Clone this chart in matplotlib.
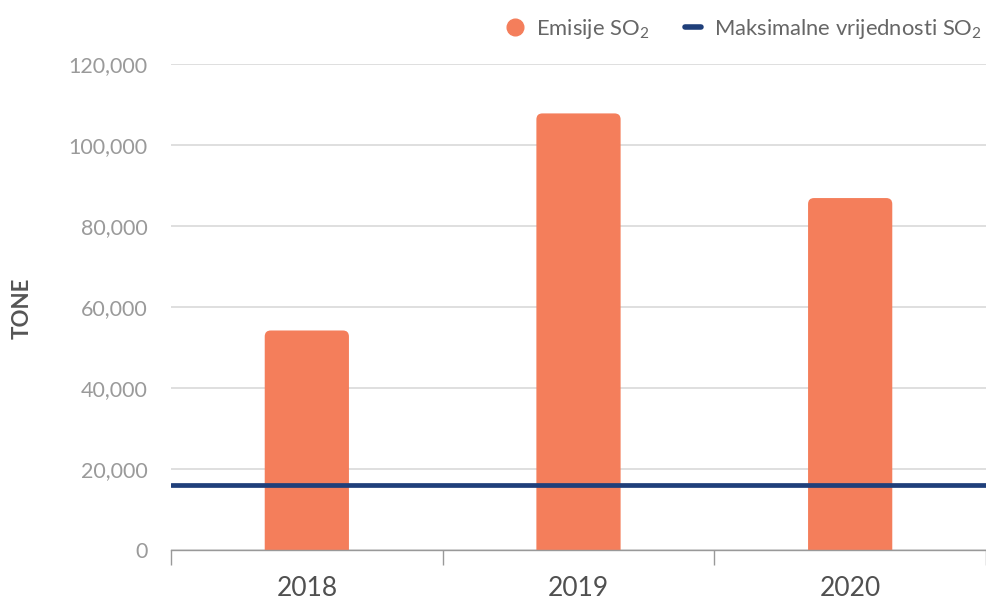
import matplotlib
matplotlib.use("Agg")
import matplotlib.pyplot as plt
from matplotlib.patches import FancyBboxPatch
from matplotlib.lines import Line2D

plt.rcParams["font.family"] = ["Lato", "DejaVu Sans"]
plt.rcParams["mathtext.fontset"] = "custom"
plt.rcParams["mathtext.rm"] = "Lato"
plt.rcParams["mathtext.it"] = "Lato"

# podaci
years = ["2018", "2019", "2020"]
emisije = [54200, 107800, 86900]
max_so2 = 16000
y_ticks = [0, 20000, 40000, 60000, 80000, 100000, 120000]

bar_color = "#F47E5B"
line_color = "#1F3F7A"

fig = plt.figure(figsize=(9.86, 6.02), dpi=100)
ax = fig.add_axes([171 / 986, 52 / 602, 815 / 986, 486 / 602])

ax.set_xlim(-0.5, len(years) - 0.5)
ax.set_ylim(0, 120000)

# zaobljeni vrhovi stupaca
x_per_px = len(years) / 815
y_per_px = 120000 / 486
r = 6 * x_per_px
width = 0.31
for i, v in enumerate(emisije):
    box = FancyBboxPatch((i - width / 2, -5000), width, v + 5000,
                         boxstyle=f"round,pad=0,rounding_size={r}",
                         mutation_aspect=y_per_px / x_per_px,
                         facecolor=bar_color, edgecolor="none", zorder=2)
    box.set_clip_on(True)
    ax.add_patch(box)

ax.axhline(max_so2, color=line_color, lw=3.4, solid_capstyle="round", zorder=3)

# osi
ax.set_yticks(y_ticks)
ax.set_yticklabels([f"{t:,}" for t in y_ticks])
ax.yaxis.grid(True, color="#D9D9D9", lw=1.2, zorder=0)
ax.tick_params(axis="y", length=0, pad=17, labelsize=15.5, labelcolor="#9A9A9A")

ax.set_xticks([i - 0.5 for i in range(len(years) + 1)])
ax.set_xticklabels([])
ax.set_xticks(range(len(years)), minor=True)
ax.set_xticklabels(years, minor=True)
ax.tick_params(axis="x", which="major", length=11, width=1, color="#999999")
ax.tick_params(axis="x", which="minor", length=0, pad=19, labelsize=19, labelcolor="#505050")

for s in ["top", "right", "left"]:
    ax.spines[s].set_visible(False)
ax.spines["bottom"].set_color("#999999")
ax.spines["bottom"].set_linewidth(1)

fig.text(22 / 986, 1 - 308 / 602, "TONE", rotation=90, ha="center", va="center",
         fontsize=16, fontweight="bold", color="#555555")

handles = [
    Line2D([], [], marker="o", ls="none", markersize=12, color=bar_color),
    Line2D([], [], color=line_color, lw=4, solid_capstyle="round"),
]
fig.legend(handles, ["Emisije SO$_2$", "Maksimalne vrijednosti SO$_2$"],
           loc="upper right", bbox_to_anchor=(1.006, 0.988), ncol=2, frameon=False,
           fontsize=15.8, labelcolor="#666666", handlelength=0.75, handletextpad=0.6,
           columnspacing=1.6, borderaxespad=0.05)

fig.savefig("out.png", dpi=100)
